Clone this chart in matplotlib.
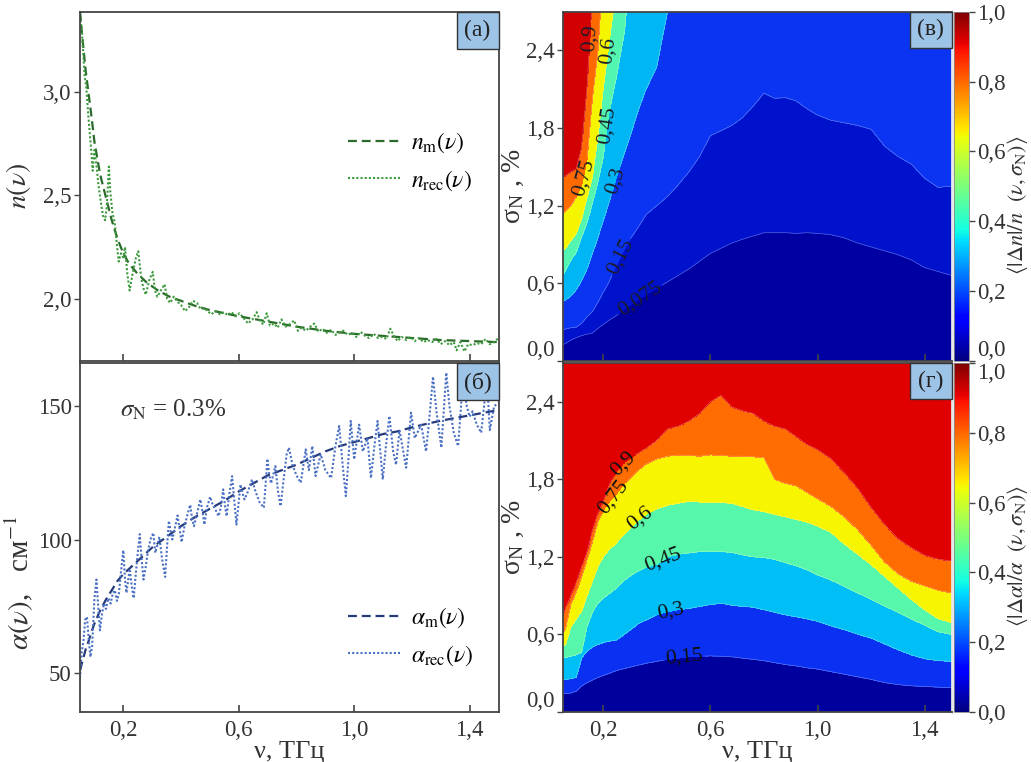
import numpy as np
import matplotlib
matplotlib.use('Agg')
import matplotlib.pyplot as plt
from matplotlib import font_manager
from matplotlib.patches import Rectangle
from matplotlib.colors import Normalize
from matplotlib.cm import ScalarMappable
from matplotlib.ticker import FuncFormatter

_avail = {f.name for f in font_manager.fontManager.ttflist}
_serif = 'Liberation Serif' if 'Liberation Serif' in _avail else 'DejaVu Serif'
plt.rcParams['font.family'] = [_serif, 'DejaVu Serif']
plt.rcParams['mathtext.fontset'] = 'stix'
plt.rcParams['font.size'] = 16

# ---------------- data: panel (a) ----------------
nu_nm = [0.05, 0.06, 0.07, 0.08, 0.09, 0.10, 0.12, 0.14, 0.16, 0.18, 0.20, 0.22, 0.25, 0.28,
         0.32, 0.36, 0.40, 0.45, 0.50, 0.55, 0.60, 0.70, 0.80, 0.90, 1.00, 1.10, 1.20, 1.30,
         1.40, 1.50]
n_m = [3.39, 3.24, 3.10, 2.99, 2.88, 2.76, 2.60, 2.49, 2.38, 2.29, 2.22, 2.17, 2.12, 2.08,
       2.04, 2.01, 1.99, 1.965, 1.945, 1.93, 1.915, 1.89, 1.865, 1.845, 1.83, 1.82, 1.81, 1.80,
       1.795, 1.79]

nu_nrec = [0.050, 0.058, 0.066, 0.072, 0.078, 0.084, 0.090, 0.094, 0.100, 0.106, 0.114, 0.122,
           0.130, 0.137, 0.143, 0.150, 0.155, 0.162, 0.170, 0.178, 0.184, 0.192, 0.200, 0.206,
           0.214, 0.222, 0.232, 0.244, 0.252, 0.262, 0.270, 0.278, 0.290, 0.302, 0.310, 0.318,
           0.330, 0.343, 0.352, 0.362, 0.375, 0.388, 0.400, 0.414, 0.428, 0.442, 0.455, 0.468,
           0.480, 0.492, 0.505, 0.520, 0.535, 0.550, 0.562, 0.575, 0.590, 0.603, 0.618, 0.632,
           0.648, 0.662, 0.675, 0.685, 0.697, 0.708, 0.722, 0.735, 0.748, 0.762, 0.775, 0.792,
           0.805, 0.818, 0.832, 0.848, 0.862, 0.876, 0.890, 0.905, 0.920, 0.935, 0.948, 0.962,
           0.978, 0.992, 1.008, 1.022, 1.038, 1.052, 1.068, 1.082, 1.098, 1.112, 1.125, 1.138,
           1.150, 1.165, 1.180, 1.195, 1.210, 1.225, 1.240, 1.255, 1.270, 1.285, 1.300, 1.315,
           1.330, 1.345, 1.355, 1.368, 1.382, 1.395, 1.410, 1.425, 1.440, 1.455, 1.470, 1.485,
           1.500]
n_rec = [3.39, 3.26, 3.08, 3.02, 2.90, 2.80, 2.70, 2.62, 2.72, 2.66, 2.55, 2.47,
         2.40, 2.38, 2.45, 2.64, 2.52, 2.42, 2.37, 2.26, 2.18, 2.22, 2.20, 2.25,
         2.12, 2.04, 2.12, 2.20, 2.23, 2.10, 2.05, 2.02, 2.09, 2.13, 2.04, 2.01,
         2.04, 2.07, 2.00, 1.98, 2.01, 1.985, 1.97, 1.94, 1.96, 1.99, 1.98, 1.95,
         1.955, 1.94, 1.925, 1.94, 1.925, 1.935, 1.92, 1.935, 1.915, 1.93, 1.905, 1.88,
         1.90, 1.935, 1.89, 1.875, 1.93, 1.87, 1.88, 1.86, 1.90, 1.865, 1.875, 1.895,
         1.845, 1.86, 1.845, 1.865, 1.88, 1.84, 1.855, 1.835, 1.85, 1.825, 1.835, 1.845,
         1.825, 1.835, 1.815, 1.84, 1.82, 1.81, 1.83, 1.81, 1.815, 1.805, 1.855, 1.82,
         1.795, 1.815, 1.80, 1.815, 1.795, 1.81, 1.79, 1.80, 1.79, 1.805, 1.78, 1.795,
         1.775, 1.79, 1.75, 1.79, 1.745, 1.78, 1.775, 1.785, 1.78, 1.805, 1.78, 1.79,
         1.81]

# ---------------- data: panel (б) ----------------
nu_am = [0.05, 0.06, 0.07, 0.08, 0.09, 0.10, 0.12, 0.14, 0.16, 0.18, 0.20, 0.25, 0.30, 0.35,
         0.40, 0.45, 0.50, 0.55, 0.60, 0.65, 0.70, 0.75, 0.80, 0.85, 0.90, 0.95, 1.00, 1.05,
         1.10, 1.15, 1.20, 1.25, 1.30, 1.35, 1.40, 1.45, 1.50]
alpha_m = [51, 55, 59, 62, 65.5, 68.5, 73.5, 77.5, 81, 84.5, 87, 92, 97, 101,
           105, 108.5, 111.5, 114.5, 118, 121, 124, 126, 128, 130.5, 133, 135, 136.5, 138,
           139.5, 140.5, 142, 143.3, 144.5, 145.5, 146.5, 147.5, 148.5]

nu_arec = [0.050, 0.056, 0.062, 0.068, 0.074, 0.080, 0.086, 0.092, 0.100, 0.107, 0.113, 0.119,
           0.126, 0.133, 0.140, 0.148, 0.156, 0.164, 0.171, 0.178, 0.185, 0.192, 0.200, 0.206,
           0.211, 0.217, 0.222, 0.230, 0.236, 0.244, 0.252, 0.257, 0.264, 0.270, 0.278, 0.286,
           0.294, 0.304, 0.311, 0.318, 0.325, 0.334, 0.345, 0.352, 0.358, 0.364, 0.370, 0.378,
           0.388, 0.395, 0.402, 0.412, 0.424, 0.432, 0.438, 0.445, 0.456, 0.467, 0.475, 0.481,
           0.490, 0.501, 0.510, 0.520, 0.530, 0.538, 0.546, 0.553, 0.558, 0.566, 0.577, 0.585,
           0.592, 0.600, 0.606, 0.614, 0.620, 0.632, 0.646, 0.658, 0.672, 0.687, 0.694, 0.699,
           0.706, 0.712, 0.727, 0.736, 0.745, 0.755, 0.766, 0.774, 0.786, 0.800, 0.815, 0.832,
           0.843, 0.855, 0.866, 0.884, 0.900, 0.920, 0.935, 0.948, 0.960, 0.971, 0.980, 0.988,
           1.000, 1.017, 1.030, 1.046, 1.058, 1.070, 1.081, 1.099, 1.110, 1.122, 1.135, 1.145,
           1.157, 1.170, 1.180, 1.197, 1.210, 1.232, 1.249, 1.260, 1.273, 1.285, 1.302, 1.319,
           1.330, 1.345, 1.360, 1.377, 1.390, 1.400, 1.410, 1.425, 1.440, 1.460, 1.470, 1.485,
           1.500]
alpha_rec = [48, 58, 62, 70, 71, 63, 56, 60, 78, 85, 75, 66,
             72, 76, 74, 78, 76, 80, 81, 77, 80, 88, 96, 85,
             80, 85, 89, 82, 78, 88, 97, 102, 92, 85, 90, 96,
             100, 102.5, 95, 98, 101, 93, 86, 98, 107, 103, 100, 104,
             109, 104, 99, 105, 110, 113, 108, 105, 110, 115, 110, 105.6,
             112, 116, 113, 111, 108.75, 112, 118.75, 112, 108.75, 116, 123.75, 114,
             105.6, 114, 120.6, 117, 115, 118, 122.5, 118, 114, 111.9, 122, 130.25,
             124, 121, 127.5, 118, 112.5, 122, 132, 134.4, 128, 124, 121.25, 133.75,
             126, 135, 123.75, 131.9, 126, 123, 135, 142.5, 128, 116.25, 130, 144.4,
             130, 143, 133, 138, 123, 135, 144.4, 122.5, 135, 146.25, 133, 128,
             141, 133, 126.9, 147.5, 138, 143, 133, 145, 161, 148, 134.4, 162.5,
             150, 140, 135, 160, 150, 146, 148, 143, 140, 160, 141, 150,
             151]

# ---------------- data: contour maps (boundary sigma_N of each level vs nu) ----------------
nu_b = [0.05, 0.06, 0.08, 0.10, 0.12, 0.14, 0.16, 0.18, 0.20, 0.22,
        0.25, 0.28, 0.30, 0.33, 0.36, 0.40, 0.44, 0.48, 0.52, 0.56,
        0.60, 0.64, 0.68, 0.72, 0.76, 0.80, 0.84, 0.88, 0.92, 0.96,
        1.00, 1.05, 1.10, 1.15, 1.20, 1.25, 1.30, 1.35, 1.40, 1.45, 1.50]

levels_v = [0.075, 0.15, 0.3, 0.45, 0.6, 0.75, 0.9]
v_075 = [0.123, 0.135, 0.16, 0.18, 0.195, 0.205, 0.215, 0.25, 0.28, 0.31,
         0.35, 0.40, 0.43, 0.47, 0.51, 0.56, 0.61, 0.66, 0.71, 0.77,
         0.83, 0.87, 0.91, 0.94, 0.965, 0.99, 0.99, 0.99, 0.985, 0.99,
         0.985, 0.975, 0.95, 0.91, 0.88, 0.85, 0.82, 0.78, 0.72, 0.69, 0.66]
v_15 = [0.239, 0.245, 0.255, 0.26, 0.29, 0.34, 0.38, 0.45, 0.53, 0.60,
        0.745, 0.87, 0.94, 1.03, 1.13, 1.20, 1.27, 1.36, 1.46, 1.58,
        1.74, 1.78, 1.82, 1.88, 1.97, 2.07, 2.03, 2.035, 2.01, 1.95,
        1.90, 1.86, 1.84, 1.82, 1.79, 1.66, 1.58, 1.52, 1.41, 1.34, 1.35]
v_30 = [0.458, 0.47, 0.50, 0.55, 0.62, 0.71, 0.83, 0.95, 1.08, 1.21,
        1.42, 1.61, 1.73, 1.93, 2.10, 2.27, 2.70, 3.2, 3.6, 3.8] + [4.0] * 21
v_45 = [0.664, 0.70, 0.78, 0.84, 0.96, 1.07, 1.22, 1.38, 1.57, 1.90,
        2.20, 2.55, 3.0, 3.4, 3.8] + [4.2] * 26
v_60 = [0.857, 0.87, 0.93, 0.985, 1.10, 1.26, 1.42, 1.72, 2.10, 2.42,
        2.9, 3.6] + [4.4] * 29
v_75 = [1.14, 1.16, 1.20, 1.27, 1.36, 1.55, 2.03, 2.38, 3.0, 3.6] + [4.6] * 31
v_90 = [1.42, 1.43, 1.46, 1.48, 1.65, 2.10, 2.8, 3.5, 4.0, 4.4] + [4.8] * 31

levels_g = [0.15, 0.3, 0.45, 0.6, 0.75, 0.9]
g_15 = [0.14, 0.14, 0.145, 0.16, 0.20, 0.225, 0.245, 0.265, 0.28, 0.295,
        0.32, 0.335, 0.345, 0.36, 0.375, 0.39, 0.405, 0.415, 0.425, 0.43,
        0.432, 0.43, 0.425, 0.415, 0.405, 0.395, 0.38, 0.365, 0.355, 0.34,
        0.33, 0.31, 0.29, 0.27, 0.25, 0.225, 0.21, 0.20, 0.195, 0.19, 0.185]
g_30 = [0.25, 0.25, 0.255, 0.265, 0.42, 0.47, 0.50, 0.52, 0.535, 0.545,
        0.555, 0.60, 0.63, 0.68, 0.71, 0.75, 0.775, 0.79, 0.80, 0.815,
        0.83, 0.84, 0.825, 0.815, 0.81, 0.79, 0.77, 0.75, 0.735, 0.72,
        0.70, 0.665, 0.635, 0.60, 0.57, 0.525, 0.48, 0.44, 0.41, 0.395, 0.39]
g_45 = [0.42, 0.42, 0.43, 0.44, 0.46, 0.66, 0.77, 0.84, 0.88, 0.91,
        0.96, 1.02, 1.05, 1.09, 1.12, 1.14, 1.20, 1.22, 1.23, 1.24,
        1.245, 1.24, 1.235, 1.215, 1.20, 1.195, 1.18, 1.155, 1.13, 1.10,
        1.06, 1.02, 0.97, 0.92, 0.87, 0.82, 0.77, 0.72, 0.67, 0.62, 0.60]
g_60 = [0.51, 0.52, 0.66, 0.72, 0.78, 0.90, 1.01, 1.12, 1.20, 1.25,
        1.31, 1.38, 1.42, 1.48, 1.53, 1.57, 1.60, 1.615, 1.63, 1.625,
        1.62, 1.62, 1.615, 1.59, 1.565, 1.55, 1.53, 1.51, 1.49, 1.47,
        1.44, 1.39, 1.30, 1.22, 1.14, 1.05, 0.96, 0.87, 0.79, 0.72, 0.69]
g_75 = [0.60, 0.65, 0.84, 0.93, 1.05, 1.18, 1.32, 1.47, 1.56, 1.62,
        1.69, 1.77, 1.81, 1.87, 1.92, 1.96, 1.98, 1.99, 1.985, 1.98,
        1.99, 1.985, 1.98, 1.98, 1.975, 1.97, 1.80, 1.77, 1.75, 1.70,
        1.65, 1.59, 1.51, 1.41, 1.29, 1.16, 1.07, 1.01, 0.975, 0.94, 0.92]
g_90 = [0.74, 0.80, 0.90, 1.00, 1.12, 1.23, 1.40, 1.53, 1.62, 1.74,
        1.86, 1.93, 1.96, 2.00, 2.04, 2.10, 2.19, 2.21, 2.25, 2.31,
        2.40, 2.45, 2.36, 2.33, 2.31, 2.25, 2.21, 2.19, 2.13, 2.07,
        2.03, 1.96, 1.85, 1.73, 1.58, 1.45, 1.34, 1.27, 1.21, 1.18, 1.165]

colors_v = ['#0000a2', '#0012cc', '#0a34f2', '#00b6f5', '#52f6b0', '#f5f500', '#ff6a00', '#d20000']
colors_g = ['#00009e', '#0a30f2', '#00bef6', '#56f7aa', '#f7f500', '#ff6c00', '#e00000']

label_pos_v = {0.9: (0.14, 2.5), 0.6: (0.225, 2.4), 0.75: (0.11, 1.42), 0.45: (0.215, 1.82),
               0.3: (0.24, 1.40), 0.15: (0.25, 0.82), 0.075: (0.33, 0.50)}
label_pos_g = {0.9: (0.263, 1.94), 0.75: (0.254, 1.63), 0.6: (0.356, 1.45), 0.45: (0.419, 1.19),
               0.3: (0.45, 0.80), 0.15: (0.50, 0.45)}


def comma(v, p=None):
    return f'{v:.1f}'.replace('.', ',')


def build_field(nu_grid, sig_grid, bounds, levels):
    B = np.array([np.interp(nu_grid, nu_b, b) for b in bounds])
    for i in range(1, len(B)):
        B[i] = np.maximum(B[i], B[i - 1] + 1e-3)
    Z = np.empty((len(sig_grid), len(nu_grid)))
    fp = np.concatenate([[0.0], levels, [1.0]])
    for j in range(len(nu_grid)):
        xp = np.concatenate([[0.0], B[:, j], [B[-1, j] + 3.0]])
        Z[:, j] = np.interp(sig_grid, xp, fp)
    return Z


fig = plt.figure(figsize=(10.31, 7.62), dpi=100)
L, Wl = 80 / 1031, 418.5 / 1031
R, Wr = 563 / 1031, 388.5 / 1031
top_b, top_h = 1 - 360.7 / 762, 349 / 762
bot_b, bot_h = 1 - 711.7 / 762, 348.4 / 762
ax_a = fig.add_axes([L, top_b, Wl, top_h])
ax_b = fig.add_axes([L, bot_b, Wl, bot_h])
ax_v = fig.add_axes([R, top_b, Wr, top_h])
ax_g = fig.add_axes([R, bot_b, Wr, bot_h])
cax_v = fig.add_axes([954 / 1031, top_b, 15 / 1031, top_h])
cax_g = fig.add_axes([954 / 1031, bot_b, 15 / 1031, bot_h])

tick_col = '#333333'
spine_col = '#444444'


def style(ax):
    for s in ax.spines.values():
        s.set_color(spine_col)
        s.set_linewidth(1.3)
    ax.tick_params(axis='x', direction='in', length=5, width=1.2, colors=spine_col,
                   labelcolor=tick_col, labelsize=16.5, pad=6)
    ax.tick_params(axis='y', direction='out', length=4, width=1.0, colors=spine_col,
                   labelcolor=tick_col, labelsize=16.5, pad=2)
    ax.set_xlim(0.05, 1.5)
    ax.set_xticks([0.2, 0.6, 1.0, 1.4])
    ax.xaxis.set_major_formatter(FuncFormatter(comma))


def panel_label(ax, text, w, h):
    ax.add_patch(Rectangle((1 - w, 1 - h), w, h, transform=ax.transAxes, facecolor='#9dc3e6',
                           edgecolor='#333333', lw=1.0, zorder=6, clip_on=False))
    ax.text(1 - w / 2, 1 - h / 2, text, transform=ax.transAxes, ha='center', va='center',
            fontsize=17, color='#222222', zorder=7)


# ---- (a)
style(ax_a)
ax_a.plot(nu_nm, n_m, ls=(0, (4, 2.2)), color='#2b6b2b', lw=1.6, label=r'$n_{\rm m}(\nu)$')
ax_a.plot(nu_nrec, n_rec, ls=(0, (1, 1)), color='#3d9a3d', lw=1.5, label=r'$n_{\rm rec}(\nu)$')
ax_a.set_ylim(1.7, 3.39)
ax_a.set_yticks([2.0, 2.5, 3.0])
ax_a.yaxis.set_major_formatter(FuncFormatter(comma))
ax_a.tick_params(axis='x', labelbottom=False)
ax_a.set_ylabel(r'$n(\nu)$', fontsize=20, color=tick_col, labelpad=7)
ax_a.legend(loc='upper left', bbox_to_anchor=(0.59, 0.72), frameon=False, fontsize=17,
            handlelength=2.2, labelspacing=0.55, handletextpad=0.45)
panel_label(ax_a, '(a)', 0.1, 0.106)

# ---- (б)
style(ax_b)
ax_b.plot(nu_am, alpha_m, ls=(0, (4, 2.2)), color='#253a78', lw=1.6, label=r'$\alpha_{\rm m}(\nu)$')
ax_b.plot(nu_arec, alpha_rec, ls=(0, (1, 1)), color='#4a70c4', lw=1.5, label=r'$\alpha_{\rm rec}(\nu)$')
ax_b.set_ylim(35.5, 166)
ax_b.set_yticks([50, 100, 150])
ax_b.set_ylabel(r'$\alpha(\nu)$,   см$^{-1}$', fontsize=21, color=tick_col)
ax_b.yaxis.set_label_coords(-0.105, 0.37)
ax_b.set_xlabel('ν, ТГц', fontsize=19, color=tick_col, labelpad=0)
ax_b.text(0.095, 0.865, r'$\sigma_{\rm N}$ = 0.3%', transform=ax_b.transAxes, fontsize=18,
          color=tick_col, va='center')
ax_b.legend(loc='upper left', bbox_to_anchor=(0.59, 0.365), frameon=False, fontsize=17,
            handlelength=2.2, labelspacing=0.55, handletextpad=0.45)
panel_label(ax_b, '(б)', 0.1, 0.106)

# ---- contour maps
nu_grid = np.linspace(0.05, 1.5, 700)
sig_grid = np.linspace(0.0, 2.7, 500)
NU, SIG = np.meshgrid(nu_grid, sig_grid)


def contour_panel(ax, bounds, levels, colors, label_pos, tag, lab_col):
    style(ax)
    Z = build_field(nu_grid, sig_grid, bounds, levels)
    ax.contourf(NU, SIG, Z, levels=[0.0] + levels + [1.01], colors=colors)
    for lev, pos in label_pos.items():
        cs = ax.contour(NU, SIG, Z, levels=[lev], colors=[(1, 1, 1, 0.35)], linewidths=0.5)
        ax.clabel(cs, manual=[pos], inline=True, inline_spacing=2,
                  fontsize=15.5, colors=lab_col, fmt=lambda v: f'{v:g}'.replace('.', ','))
    ax.set_ylim(0, 2.7)
    ax.set_yticks([0.0, 0.6, 1.2, 1.8, 2.4])
    ax.yaxis.set_major_formatter(FuncFormatter(comma))
    ax.yaxis.get_major_ticks()[0].label1.set_verticalalignment('bottom')
    ax.set_ylabel('σ$_\\mathregular{N}$ , %', fontsize=20, color=tick_col, labelpad=0)
    ax.spines['right'].set_color('#e8e8e8')
    ax.spines['right'].set_linewidth(2)
    panel_label(ax, tag, 0.108, 0.103)


contour_panel(ax_v, [v_075, v_15, v_30, v_45, v_60, v_75, v_90], levels_v, colors_v,
              label_pos_v, '(в)', '#1c1c2a')
ax_v.tick_params(axis='x', labelbottom=False)
contour_panel(ax_g, [g_15, g_30, g_45, g_60, g_75, g_90], levels_g, colors_g,
              label_pos_g, '(г)', '#111111')
ax_g.set_xlabel('ν, ТГц', fontsize=19, color=tick_col, labelpad=0)

sm = ScalarMappable(norm=Normalize(0, 1), cmap='jet')
cb_labels = [(cax_v, r'$\langle|\Delta n|/n\ \ (\nu,\sigma_{\rm N})\rangle$', 205),
             (cax_g, r'$\langle|\Delta \alpha|/\alpha\ \ (\nu,\sigma_{\rm N})\rangle$', 556)]
for k, (cax, lab, ypix) in enumerate(cb_labels):
    cb = fig.colorbar(sm, cax=cax, ticks=[0, 0.2, 0.4, 0.6, 0.8, 1.0],
                      format=FuncFormatter(comma))
    cb.outline.set_edgecolor('#888888')
    cb.outline.set_linewidth(0.6)
    cax.tick_params(labelsize=16.5, length=4, width=1, colors=spine_col, labelcolor=tick_col, pad=2)
    ticks = cax.yaxis.get_major_ticks()
    if k == 0:
        ticks[0].label2.set_verticalalignment('bottom')
    else:
        ticks[-1].label2.set_verticalalignment('top')
    fig.text(1018 / 1031, 1 - ypix / 762, lab, rotation=90, ha='center', va='center',
             fontsize=16, color=tick_col)

fig.savefig('out.png', dpi=100)
